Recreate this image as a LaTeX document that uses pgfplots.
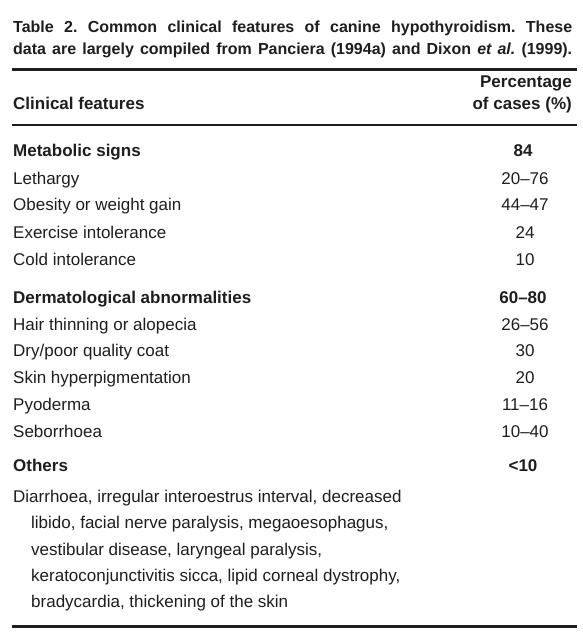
\documentclass[border=0pt]{standalone}
\usepackage{fontspec}
\setmainfont{Liberation Sans}
\usepackage{pgfplots}
\usepackage{pgfplotstable}
\pgfplotsset{compat=1.18}
\definecolor{ink}{HTML}{1E1E1E}

\pgfplotstableread[col sep=semicolon]{
y;feat;pct
185;Lethargy;20--76
211;Obesity or weight gain;44--47
238;Exercise intolerance;24
265;Cold intolerance;10
330;Hair thinning or alopecia;26--56
356;Dry/poor quality coat;30
383;Skin hyperpigmentation;20
410;Pyoderma;11--16
437;Seborrhoea;10--40
}\rowsnormal

\pgfplotstableread[col sep=semicolon]{
y;feat;pct
157;Metabolic signs;84
303;Dermatological abnormalities;60--80
471;Others;<10
}\rowsbold

\pgfplotstableread[col sep=semicolon]{
y;x;txt
502;13;Diarrhoea, irregular interoestrus interval, decreased
528;31;libido, facial nerve paralysis, megaoesophagus,
555;31;vestibular disease, laryngeal paralysis,
581;31;keratoconjunctivitis sicca, lipid corneal dystrophy,
607;31;bradycardia, thickening of the skin
}\rowsothers

\begin{document}
\frenchspacing
\fontsize{17}{20}\selectfont
\begin{tikzpicture}
\begin{axis}[
  width=582pt, height=636pt, scale only axis,
  xmin=0, xmax=582, ymin=0, ymax=636, y dir=reverse,
  hide axis, clip=false,
]
\fill[white] (axis cs:0,0) rectangle (axis cs:582,636);
% rules
\addplot[ink, line width=3pt] coordinates {(12,70) (577,70)};
\addplot[ink, line width=2.5pt] coordinates {(12,125) (577,125)};
\addplot[ink, line width=3pt] coordinates {(12,626) (577,626)};
% title
\node[anchor=base west, inner sep=0pt, text=ink, font=\fontsize{16}{19}\selectfont] at (axis cs:13,33)
  {\makebox[559pt][s]{\bfseries Table 2. Common clinical features of canine hypothyroidism. These}};
\node[anchor=base west, inner sep=0pt, text=ink, font=\fontsize{16}{19}\selectfont] at (axis cs:13,55)
  {\makebox[559pt][s]{\bfseries data are largely compiled from Panciera (1994a) and Dixon \textit{et al.} (1999).}};
% header
\node[anchor=base east, inner sep=0pt, text=ink, font=\bfseries] at (axis cs:572,88) {Percentage};
\node[anchor=base east, inner sep=0pt, text=ink, font=\bfseries] at (axis cs:572,110) {of cases (\%)};
\node[anchor=base west, inner sep=0pt, text=ink, font=\bfseries] at (axis cs:13,110) {Clinical features};
% rows
\addplot[draw=none, mark=none, nodes near coords, point meta=explicit symbolic,
  nodes near coords style={anchor=base west, inner sep=0pt, text=ink}]
  table[x expr=13, y=y, meta=feat] {\rowsnormal};
\addplot[draw=none, mark=none, nodes near coords, point meta=explicit symbolic,
  nodes near coords style={anchor=base, inner sep=0pt, text=ink}]
  table[x expr=525, y=y, meta=pct] {\rowsnormal};
\addplot[draw=none, mark=none, nodes near coords, point meta=explicit symbolic,
  nodes near coords style={anchor=base west, inner sep=0pt, text=ink, font=\bfseries}]
  table[x expr=13, y=y, meta=feat] {\rowsbold};
\addplot[draw=none, mark=none, nodes near coords, point meta=explicit symbolic,
  nodes near coords style={anchor=base, inner sep=0pt, text=ink, font=\bfseries}]
  table[x expr=523, y=y, meta=pct] {\rowsbold};
\addplot[draw=none, mark=none, nodes near coords, point meta=explicit symbolic,
  nodes near coords style={anchor=base west, inner sep=0pt, text=ink}]
  table[x=x, y=y, meta=txt] {\rowsothers};
\end{axis}
\end{tikzpicture}
\end{document}
